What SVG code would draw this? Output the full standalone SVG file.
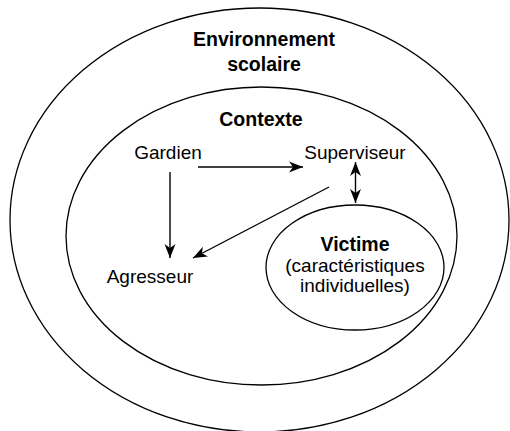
<svg xmlns="http://www.w3.org/2000/svg" width="510" height="431" viewBox="0 0 510 431">
<style>
.ell{fill:none;stroke:#000;stroke-width:1.3}
.t{font-family:"Liberation Sans",Arial,sans-serif;font-size:19px;fill:#000;text-anchor:middle}
.b{font-weight:bold;font-size:19.5px}
.c{stroke:#000;stroke-width:1.4;fill:none;marker-end:url(#ah)}
</style>
<defs>
<marker id="ah" viewBox="-15 -6 16 12" refX="0" refY="0" markerWidth="16" markerHeight="12" markerUnits="userSpaceOnUse" orient="auto-start-reverse">
<path d="M0,0 L-14,-5.5 L-10,0 L-14,5.5 Z" fill="#000"/>
</marker>
</defs>
<rect width="510" height="431" fill="#fff"/>
<g id="environnement">
<ellipse class="ell" cx="259.5" cy="220" rx="249.5" ry="212"/>
<text class="t b" x="264" y="46">Environnement</text>
<text class="t b" x="264" y="71">scolaire</text>
</g>
<g id="contexte">
<ellipse class="ell" cx="261.5" cy="236" rx="195.5" ry="149"/>
<text class="t b" x="261" y="126">Contexte</text>
</g>
<g id="gardien"><text class="t" x="168" y="159">Gardien</text></g>
<g id="superviseur"><text class="t" x="355" y="159">Superviseur</text></g>
<g id="agresseur"><text class="t" x="150" y="283">Agresseur</text></g>
<g id="victime">
<ellipse class="ell" cx="355" cy="267.5" rx="89" ry="62.5"/>
<text class="t b" x="355" y="251">Victime</text>
<text class="t" x="355" y="272">(caractéristiques</text>
<text class="t" x="355" y="292">individuelles)</text>
</g>
<g id="connectors">
<line class="c" x1="198" y1="167" x2="303" y2="167"/>
<line class="c" x1="170" y1="172" x2="170" y2="258"/>
<line class="c" x1="329" y1="187" x2="193" y2="258"/>
<line class="c" x1="355.5" y1="162" x2="355.5" y2="203" style="marker-start:url(#ah)"/>
</g>
</svg>
